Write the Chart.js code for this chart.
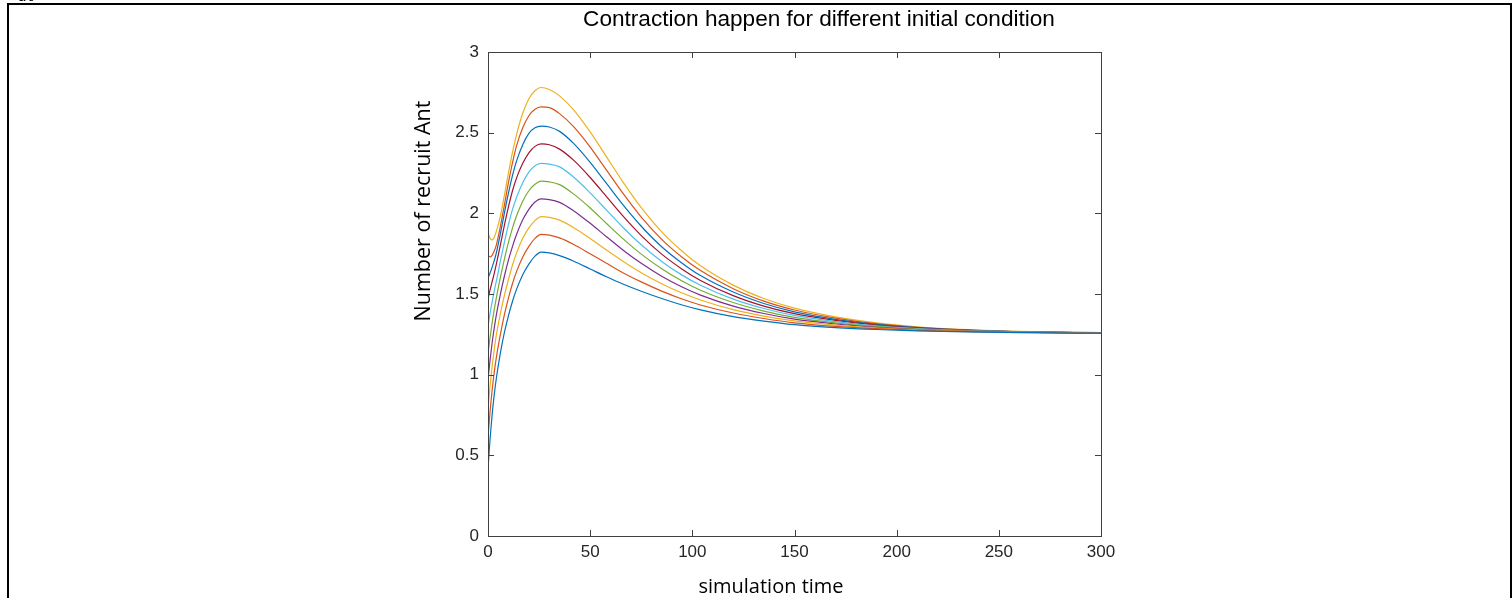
<!DOCTYPE html>
<html><head><meta charset="utf-8">
<script src="https://cdn.jsdelivr.net/npm/chart.js@4.4.0/dist/chart.umd.min.js"></script>
<style>
html,body{margin:0;padding:0;background:#fff;overflow:hidden}
#wrap{position:relative;width:1512px;height:598px;overflow:hidden}
#frame{position:absolute;left:7px;top:3px;right:0;bottom:-10px;border:2px solid #000;border-bottom:none;pointer-events:none}
#dt{position:absolute;left:18px;top:-14px;font:italic 16px 'DejaVu Serif';color:#000}
canvas{position:absolute;left:0;top:0}
</style></head><body>
<div id="wrap"><canvas id="c" width="1512" height="598"></canvas><div id="frame"></div><div id="dt">dt</div></div>
<script>
// simulation time samples
const times = [0,1,2,3,4,6,8,10,12,14,17,20,23,26,30,35,42,50,58,66,75,85,95,104,120,135,150,170,190,210,235,260,300];
// Number of recruit Ant, one array per initial condition (bottom to top)
const ic1  = [0.42,0.60,0.75,0.87,0.97,1.13,1.26,1.365,1.455,1.53,1.62,1.685,1.735,1.76,1.755,1.738,1.703,1.655,1.607,1.562,1.517,1.472,1.432,1.402,1.360,1.332,1.310,1.292,1.280,1.272,1.265,1.261,1.257];
const ic2  = [0.61,0.77,0.90,1.01,1.10,1.245,1.37,1.475,1.565,1.64,1.73,1.795,1.845,1.87,1.865,1.848,1.807,1.749,1.690,1.632,1.575,1.518,1.469,1.432,1.382,1.348,1.321,1.299,1.285,1.275,1.267,1.262,1.257];
const ic3  = [0.79,0.93,1.05,1.15,1.24,1.375,1.49,1.59,1.68,1.755,1.845,1.91,1.955,1.98,1.975,1.958,1.911,1.844,1.772,1.703,1.632,1.564,1.506,1.463,1.403,1.363,1.333,1.307,1.289,1.278,1.268,1.263,1.258];
const ic4  = [0.97,1.09,1.195,1.285,1.365,1.495,1.61,1.71,1.795,1.87,1.96,2.025,2.07,2.09,2.085,2.068,2.015,1.938,1.855,1.773,1.690,1.610,1.543,1.493,1.425,1.379,1.344,1.314,1.294,1.280,1.270,1.263,1.258];
const ic5  = [1.13,1.23,1.32,1.40,1.47,1.60,1.715,1.82,1.91,1.985,2.075,2.14,2.18,2.20,2.195,2.178,2.119,2.033,1.937,1.843,1.747,1.656,1.580,1.523,1.447,1.394,1.355,1.321,1.298,1.283,1.271,1.264,1.258];
const ic6  = [1.30,1.38,1.45,1.515,1.575,1.70,1.82,1.93,2.025,2.10,2.19,2.255,2.295,2.31,2.305,2.288,2.224,2.127,2.020,1.914,1.805,1.702,1.617,1.554,1.468,1.410,1.367,1.329,1.303,1.286,1.273,1.265,1.259];
const ic7  = [1.47,1.525,1.575,1.625,1.68,1.80,1.925,2.04,2.14,2.22,2.31,2.375,2.415,2.43,2.425,2.398,2.328,2.222,2.103,1.984,1.862,1.747,1.654,1.584,1.490,1.425,1.378,1.336,1.307,1.289,1.274,1.266,1.259];
const ic8  = [1.60,1.63,1.665,1.705,1.75,1.87,2.00,2.125,2.235,2.325,2.425,2.495,2.53,2.54,2.535,2.508,2.432,2.316,2.185,2.054,1.920,1.793,1.691,1.614,1.512,1.441,1.389,1.343,1.312,1.291,1.276,1.266,1.259];
const ic9  = [1.74,1.73,1.74,1.765,1.80,1.915,2.05,2.19,2.315,2.42,2.53,2.605,2.645,2.66,2.655,2.618,2.536,2.411,2.268,2.125,1.977,1.839,1.728,1.645,1.533,1.456,1.401,1.351,1.316,1.294,1.277,1.267,1.260];
const ic10 = [1.88,1.845,1.835,1.85,1.885,1.98,2.11,2.25,2.38,2.49,2.62,2.71,2.76,2.78,2.768,2.728,2.64,2.505,2.35,2.195,2.035,1.885,1.765,1.675,1.555,1.472,1.412,1.358,1.321,1.297,1.279,1.268,1.260];
const xTicks = [0,50,100,150,200,250,300];
const yTicks = [0,0.5,1,1.5,2,2.5,3];
const titleText = 'Contraction happen for different initial condition';
const xTitle = 'simulation time';
const yTitle = 'Number of recruit Ant';

const series = [ic1,ic2,ic3,ic4,ic5,ic6,ic7,ic8,ic9,ic10];
const colors = ['#0072BD','#D95319','#EDB120','#7E2F8E','#77AC30','#4DBEEE','#A2142F','#0072BD','#D95319','#EDB120'];

const datasets = series.map((arr, k) => ({
  data: times.map((t, i) => ({x: t, y: arr[i]})),
  borderColor: colors[k],
  borderWidth: 1.2,
  pointRadius: 0,
  fill: false,
  cubicInterpolationMode: 'monotone'
}));

const axesPlugin = {
  id: 'matlabAxes',
  afterDatasetsDraw(chart) {
    const {ctx, chartArea: a, scales: {x, y}} = chart;
    ctx.save();
    ctx.strokeStyle = '#404040';
    ctx.lineWidth = 1;
    ctx.strokeRect(Math.round(a.left) + 0.5, Math.round(a.top) + 0.5, Math.round(a.right - a.left), Math.round(a.bottom - a.top));
    const L = 6;
    ctx.beginPath();
    xTicks.forEach(v => {
      const px = Math.round(x.getPixelForValue(v)) + 0.5;
      ctx.moveTo(px, a.bottom); ctx.lineTo(px, a.bottom - L);
      ctx.moveTo(px, a.top); ctx.lineTo(px, a.top + L);
    });
    yTicks.forEach(v => {
      const py = Math.round(y.getPixelForValue(v)) + 0.5;
      ctx.moveTo(a.left, py); ctx.lineTo(a.left + L, py);
      ctx.moveTo(a.right, py); ctx.lineTo(a.right - L, py);
    });
    ctx.stroke();
    ctx.restore();
  },
  afterDraw(chart) {
    const {ctx, chartArea: a} = chart;
    ctx.save();
    ctx.fillStyle = '#000';
    ctx.textAlign = 'center';
    ctx.textBaseline = 'alphabetic';
    ctx.font = '22.6px "Liberation Sans", Arial, sans-serif';
    ctx.fillText(titleText, a.left + 331, 26);
    ctx.font = '20px "Open Sans", sans-serif';
    ctx.fillText(xTitle, a.left + 283, 593);
    ctx.font = '21.5px "Open Sans", sans-serif';
    ctx.translate(a.left - 58, a.top + 159);
    ctx.rotate(-Math.PI / 2);
    ctx.fillText(yTitle, 0, 0);
    ctx.restore();
  }
};

new Chart(document.getElementById('c'), {
  type: 'line',
  data: {datasets},
  options: {
    responsive: false,
    animation: false,
    devicePixelRatio: 1,
    layout: {padding: {left: 428, right: 411, top: 52, bottom: 30}},
    plugins: {legend: {display: false}, title: {display: false}, tooltip: {enabled: false}},
    scales: {
      x: {
        type: 'linear', min: 0, max: 300,
        grid: {display: false, drawTicks: false},
        border: {display: false},
        afterBuildTicks: s => { s.ticks = xTicks.map(v => ({value: v})); },
        afterFit: s => { s.height = 32; },
        ticks: {padding: 6, color: '#262626', font: {family: '"Liberation Sans", Arial', size: 17}, maxRotation: 0, callback: v => String(v)}
      },
      y: {
        type: 'linear', min: 0, max: 3,
        grid: {display: false, drawTicks: false},
        border: {display: false},
        afterBuildTicks: s => { s.ticks = yTicks.map(v => ({value: v})); },
        afterFit: s => { s.width = 60; },
        ticks: {padding: 9, color: '#262626', font: {family: '"Liberation Sans", Arial', size: 17}, callback: v => String(v)}
      }
    }
  },
  plugins: [axesPlugin]
});
</script>
</body></html>
